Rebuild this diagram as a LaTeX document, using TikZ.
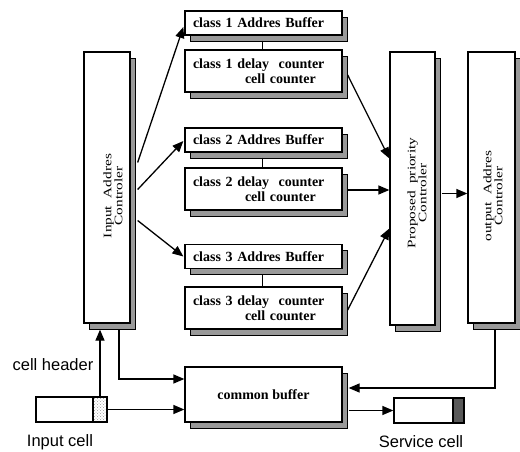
\documentclass[tikz,border=0pt]{standalone}
\usepackage{fontspec}
\setmainfont{Liberation Serif}
\newfontfamily\sansf{Liberation Sans}
\usetikzlibrary{arrows.meta,shadows,patterns,calc}
\begin{document}
\begin{tikzpicture}[x=1pt,y=-1pt,
  shad/.style={drop shadow={shadow xshift=5pt,shadow yshift=-6pt,fill=black!40,draw=black,line width=1pt,opacity=1}},
  sbox/.style={draw,fill=white,line width=1.3pt,shad,inner sep=0pt},
  clsbox/.style={sbox,minimum width=157pt,text width=141pt,align=left,font=\bfseries\fontsize{14}{15}\selectfont},
  ctrlbox/.style={sbox,minimum width=46pt,minimum height=271pt},
  ctrltext/.style={rotate=90,align=center,font=\fontsize{11.5}{11}\selectfont},
  arr/.style={-{Triangle[length=11pt,width=9pt]},line width=1.3pt},
  lab/.style={font=\sansf\fontsize{16.5}{18}\selectfont},
  thin/.style={line width=1pt}]
\useasboundingbox (0,0) rectangle (520,451);

% controllers
\node[ctrlbox] (iac) at (107,187.5) {};
\node[ctrltext] (iact) at (113,196) {\scalebox{1.33}[1]{Input~~Addres}\\\scalebox{1.33}[1]{Controler}};
\node[ctrlbox,minimum width=45pt,minimum height=273pt] (ppc) at (412.5,188.5) {};
\node[ctrltext] (ppct) at (417,193) {\scalebox{1.33}[1]{Proposed~~priority}\\\scalebox{1.33}[1]{Controler}};
\node[ctrlbox,minimum width=47pt] (oac) at (491.5,187.5) {};
\node[ctrltext] (oact) at (493,196) {\scalebox{1.33}[1]{output~~Addres}\\\scalebox{1.33}[1]{Controler}};

% class boxes
\node[clsbox,minimum height=24pt] (b1) at (263.5,23) {class 1 Addres Buffer};
\node[clsbox,minimum height=42pt] (d1) at (263.5,71) {class 1 delay~ counter\\\hspace*{52pt}cell counter};
\node[clsbox,minimum height=24pt] (b2) at (263.5,140) {class 2 Addres Buffer};
\node[clsbox,minimum height=42pt] (d2) at (263.5,189) {class 2 delay~ counter\\\hspace*{52pt}cell counter};
\node[clsbox,minimum height=24pt] (b3) at (263.5,256.5) {class 3 Addres Buffer};
\node[clsbox,minimum height=42pt] (d3) at (263.5,308) {class 3 delay~ counter\\\hspace*{52pt}cell counter};

% common buffer
\node[sbox,minimum width=157pt,minimum height=55pt,font=\bfseries\fontsize{14}{15}\selectfont] (cb) at (263.5,394.5) {common buffer};

% cells
\node[draw,line width=1.3pt,minimum width=71pt,minimum height=25pt,inner sep=0pt] (incell) at (71.5,409.5) {};
\node[draw,line width=1.3pt,minimum width=14pt,minimum height=25pt,inner sep=0pt,fill=gray!15,pattern=crosshatch dots,pattern color=gray!80] (hdr) at (100,409.5) {};
\node[draw,line width=1.3pt,minimum width=70pt,minimum height=25pt,inner sep=0pt] (svcell) at (429,410.5) {};
\node[draw,line width=1.3pt,minimum width=11pt,minimum height=25pt,inner sep=0pt,fill=black!65] (shdr) at (458.5,410.5) {};

% labels
\node[lab] (lhdr) at (53,365) {cell header};
\node[lab] (lin) at (60,442) {Input cell};
\node[lab] (lsv) at (421,442) {Service cell};

% small links between buffers and counters
\draw[thin] ($(b1.south)+(-1.5,5)$) -- ($(d1.north)+(-1.5,0)$);
\draw[thin] ($(b2.south)+(-1.5,5)$) -- ($(d2.north)+(-1.5,0)$);
\draw[thin] ($(b3.south)+(-1.5,5)$) -- ($(d3.north)+(-1.5,0)$);

% connectors
\coordinate (iacs) at ($(iac.south)+(0,6)$);
\draw[arr] ($(iac.east)+(7,-25)$) -- ($(b1.west)+(-1,4)$);
\draw[arr] ($(iac.east)+(7,2)$) -- ($(b2.west)+(-1,1)$);
\draw[arr] ($(iac.east)+(7,33)$) -- ($(b3.west)+(-1,0)$);
\draw[arr] ($(d1.east)+(5,4)$) -- ($(ppc.west)+(0,-30)$);
\draw[arr] ($(d2.east)+(5,1)$) -- ($(ppc.west)+(0,1.5)$);
\draw[arr] ($(d3.east)+(5,2)$) -- ($(ppc.west)+(0,40)$);
\draw[arr] ($(ppc.east)+(6,5)$) -- ($(oac.west)+(0,6)$);
\draw[arr] ($(oac.south)+(3.5,6)$) |- ($(cb.east)+(6,-6.5)$);
\draw[arr] ($(iac.south)+(12,6)$) |- ($(cb.west)+(0,-15.5)$);
\draw[arr] (hdr.north) -- (hdr.north |- iacs);
\draw[arr] (incell.east) -- (incell.east -| cb.west);
\draw[arr] ($(cb.east |- svcell.west)+(6,0)$) -- (svcell.west);
\end{tikzpicture}
\end{document}
